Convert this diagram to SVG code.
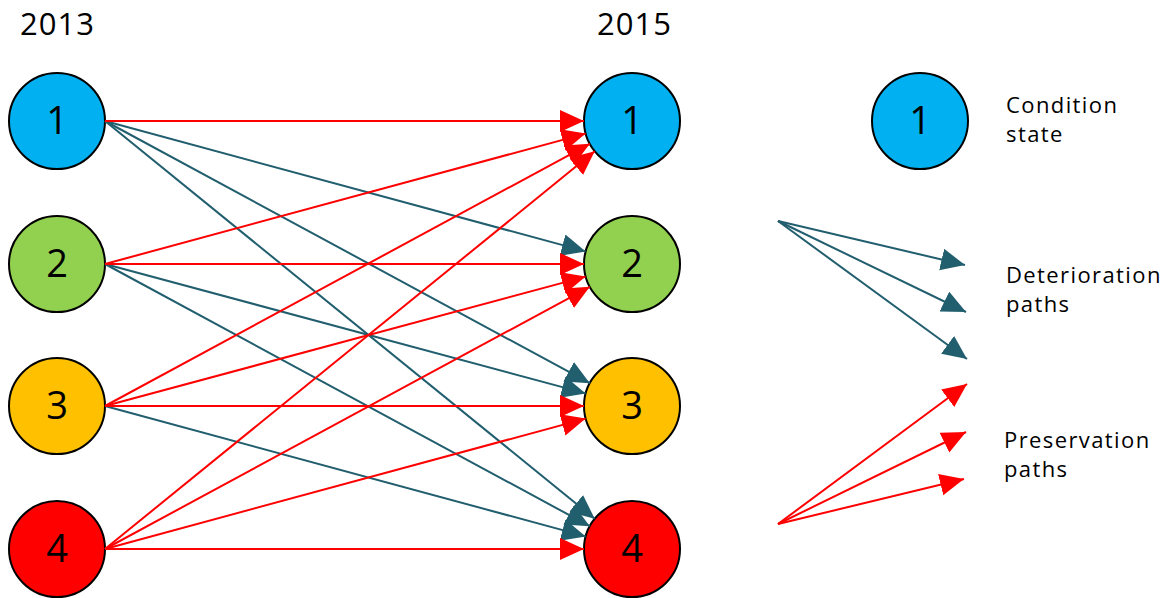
<svg xmlns="http://www.w3.org/2000/svg" width="1172" height="598" viewBox="0 0 1172 598">
<style>
  .node circle { stroke: #000; stroke-width: 2; }
  .num { font-family: "Open Sans", "Liberation Sans", sans-serif; font-size: 38px; fill: #000; text-anchor: middle; }
  .lbl { font-family: "Open Sans", "Liberation Sans", sans-serif; font-size: 22px; letter-spacing: 1.4px; fill: #000; }
  .year { font-family: "Open Sans", "Liberation Sans", sans-serif; font-size: 31px; letter-spacing: 1px; fill: #000; }
  .det { stroke: #215E6E; stroke-width: 2; fill: none; marker-end: url(#ahD); }
  .pre { stroke: #FF0000; stroke-width: 2; fill: none; marker-end: url(#ahP); }
  .s1 { fill: #00B0F0; } .s2 { fill: #92D050; } .s3 { fill: #FFC000; } .s4 { fill: #FF0000; }
</style>
<defs>
  <marker id="ahD" markerUnits="userSpaceOnUse" markerWidth="26" markerHeight="24" refX="24" refY="11" orient="auto">
    <path d="M0,0 L24,11 L0,22 z" fill="#215E6E"/>
  </marker>
  <marker id="ahP" markerUnits="userSpaceOnUse" markerWidth="26" markerHeight="24" refX="24" refY="11" orient="auto">
    <path d="M0,0 L24,11 L0,22 z" fill="#FF0000"/>
  </marker>
</defs>
<rect width="1172" height="598" fill="#fff"/>

<text class="year" x="20" y="35">2013</text>
<text class="year" x="597" y="35">2015</text>

<g id="l1" class="node"><circle class="s1" cx="57" cy="121" r="48"/><text class="num" x="57" y="134">1</text></g>
<g id="l2" class="node"><circle class="s2" cx="57" cy="264" r="48"/><text class="num" x="57" y="277">2</text></g>
<g id="l3" class="node"><circle class="s3" cx="57" cy="406" r="48"/><text class="num" x="57" y="419">3</text></g>
<g id="l4" class="node"><circle class="s4" cx="57" cy="549" r="48"/><text class="num" x="57" y="562">4</text></g>

<g id="r1" class="node"><circle class="s1" cx="632" cy="121" r="48"/><text class="num" x="632" y="134">1</text></g>
<g id="r2" class="node"><circle class="s2" cx="632" cy="264" r="48"/><text class="num" x="632" y="277">2</text></g>
<g id="r3" class="node"><circle class="s3" cx="632" cy="406" r="48"/><text class="num" x="632" y="419">3</text></g>
<g id="r4" class="node"><circle class="s4" cx="632" cy="549" r="48"/><text class="num" x="632" y="562">4</text></g>

<g id="connectors">
  <!-- deterioration -->
  <line class="det" x1="105" y1="121" x2="585.7" y2="251.4"/>
  <line class="det" x1="105" y1="121" x2="589.8" y2="383.2"/>
  <line class="det" x1="105" y1="121" x2="594.7" y2="518.7"/>
  <line class="det" x1="105" y1="264" x2="585.7" y2="393.4"/>
  <line class="det" x1="105" y1="264" x2="589.8" y2="526.2"/>
  <line class="det" x1="105" y1="406" x2="585.7" y2="536.4"/>
  <!-- preservation -->
  <line class="pre" x1="105" y1="121" x2="584" y2="121"/>
  <line class="pre" x1="105" y1="264" x2="585.7" y2="133.6"/>
  <line class="pre" x1="105" y1="264" x2="584" y2="264"/>
  <line class="pre" x1="105" y1="406" x2="589.8" y2="143.8"/>
  <line class="pre" x1="105" y1="406" x2="585.7" y2="276.6"/>
  <line class="pre" x1="105" y1="406" x2="584" y2="406"/>
  <line class="pre" x1="105" y1="549" x2="594.7" y2="151.3"/>
  <line class="pre" x1="105" y1="549" x2="589.8" y2="286.8"/>
  <line class="pre" x1="105" y1="549" x2="585.7" y2="418.6"/>
  <line class="pre" x1="105" y1="549" x2="584" y2="549"/>
  <!-- legend arrows -->
  <line class="det" x1="778" y1="221" x2="965" y2="265"/>
  <line class="det" x1="778" y1="221" x2="966" y2="312"/>
  <line class="det" x1="778" y1="221" x2="967" y2="359"/>
  <line class="pre" x1="778" y1="524" x2="967" y2="384"/>
  <line class="pre" x1="778" y1="524" x2="966" y2="432"/>
  <line class="pre" x1="778" y1="524" x2="964" y2="479"/>
</g>

<g id="legend-state" class="node"><circle class="s1" cx="920" cy="121" r="48"/><text class="num" x="920" y="134">1</text></g>
<g id="legend-text">
  <text class="lbl" x="1006" y="113">Condition</text>
  <text class="lbl" x="1006" y="142">state</text>
  <text class="lbl" x="1006" y="283">Deterioration</text>
  <text class="lbl" x="1006" y="312">paths</text>
  <text class="lbl" x="1004" y="448">Preservation</text>
  <text class="lbl" x="1004" y="477">paths</text>
</g>
</svg>
